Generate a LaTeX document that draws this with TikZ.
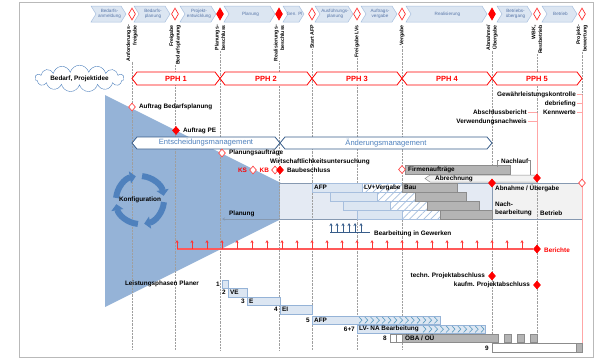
\documentclass[tikz,border=0pt]{standalone}
\usepackage{fontspec}
\setmainfont{Liberation Sans}
\usetikzlibrary{arrows.meta,positioning,shapes.geometric,shapes.symbols,patterns.meta}

\definecolor{phasefill}{HTML}{DCE6F2}
\definecolor{phasedraw}{HTML}{A7BFDE}
\definecolor{phasetext}{HTML}{5876A8}
\definecolor{trifill}{HTML}{95B3D7}
\definecolor{konfblue}{HTML}{4F81BD}
\definecolor{mgmtblue}{HTML}{385D8A}
\definecolor{bandfill}{HTML}{E4EAF3}
\definecolor{baugray}{HTML}{B4B4B4}
\definecolor{baudraw}{HTML}{8C8C8C}
\definecolor{offgray}{HTML}{F2F2F2}
\definecolor{pinkline}{HTML}{FFA6A6}
\definecolor{chevteal}{HTML}{5B9BC0}

\begin{document}
\begin{tikzpicture}[x=1pt, y=-1pt, >=Stealth,
    lbl/.style={font=\fontsize{6.4}{7.5}\selectfont\bfseries, inner xsep=1pt, inner ysep=0pt},
    redlbl/.style={lbl, text=red},
    phase/.style={fill=phasefill, draw=phasedraw, line width=0.5pt},
    phasetxt/.style={font=\fontsize{4.6}{5.4}\selectfont, text=phasetext, align=center, inner sep=0pt},
    ms/.style={diamond, draw=red!80, fill=white, line width=0.7pt, minimum width=7pt, minimum height=12pt, inner sep=0pt},
    msfull/.style={ms, fill=red, draw=red},
    mstxt/.style={rotate=90, anchor=east, align=right, font=\fontsize{5.2}{6.6}\selectfont\bfseries, inner sep=0pt},
    sms/.style={diamond, draw=red!70, fill=white, line width=0.7pt, minimum width=7pt, minimum height=8pt, inner sep=0pt},
    smsfull/.style={sms, fill=red, draw=red},
    vline/.style={gray!75, densely dotted, line width=0.45pt},
    pph/.style={draw=red, fill=white, line width=0.8pt},
    pphtxt/.style={font=\fontsize{7.5}{9}\selectfont\bfseries, text=red, inner sep=0pt},
    mgmt/.style={draw=mgmtblue, fill=white, line width=0.8pt},
    mgmttxt/.style={font=\fontsize{7.6}{9}\selectfont, text=konfblue, inner sep=0pt},
    afp/.style={fill=phasefill, draw=phasedraw, line width=0.5pt},
    hatch/.style={fill=white, draw=phasedraw, line width=0.5pt, postaction={pattern={Lines[angle=45, distance=5pt, line width=0.7pt]}, pattern color=phasedraw}},
    bau/.style={fill=baugray, draw=baudraw, line width=0.5pt},
    lp/.style={fill=phasefill, draw=trifill, line width=0.5pt},
    lpwhite/.style={fill=white, draw=baudraw, line width=0.5pt},
    chevline/.style={draw=chevteal, line width=0.6pt},
    pinkl/.style={draw=pinkline, line width=0.8pt},
    redline/.style={draw=red!65, line width=1.2pt},
    redarr/.style={draw=red!80, line width=0.6pt, -{Stealth[length=3pt, width=3pt]}},
    bluearr/.style={draw=mgmtblue, line width=0.6pt, -{Stealth[length=3pt, width=3pt]}},
    konfarr/.style={draw=konfblue, line width=6pt, -{Triangle[length=6pt, width=12pt]}}]

    \useasboundingbox (0,0) rectangle (600,360);
    \draw[gray!55, line width=0.8pt] (19,2) rectangle (593,357);
    \coordinate (bot) at (0,350);
    \coordinate (pinkend) at (582,343);

    % Phases on top
    \foreach \a/\b/\t [count=\i] in {91/126/{Bedarfs-\\anmeldung}, 134/170/{Bedarfs-\\planung}, 180/216/{Projekt-\\entwicklung}, 224/275/Planung, 283/304/{Gen. Pl}, 315/353/{Ausführungs-\\planung}, 361/397/{Auftrags-\\vergabe}, 406/487/Realisierung, 497/532/{Betriebs-\\übergang}, 542/577/Betrieb}{
        \draw[phase] (\a,6) -- (\b-5,6) -- (\b,14) -- (\b-5,22) -- (\a,22) -- (\a+5,14) -- cycle;
        \node[phasetxt] (ph\i) at ({(\a+\b)/2+1},14) {\t};
    }

    % Milestones
    \foreach \x/\t/\s [count=\i] in {132/{Anforderungs-\\freigabe}/ms, 175/{Freigabe\\Bedarfsplanung}/ms, 220/{Planungs-\\beschluss}/msfull, 279/{Realisierungs-\\beschluss}/msfull, 312/{Start AFP}/ms, 357/{Freigabe LVs}/ms, 402/Vergabe/ms, 492/{Abnahme/\\Übergabe}/msfull, 537/{WBK,\\Restbetrieb}/ms, 582/{Projekt-\\bewertung}/ms}{
        \node[\s] (d\i) at (\x,14) {};
        \node[mstxt] (m\i) at (\x,25) {\t};
    }

    \node[lbl, cloud, draw=konfblue, fill=white, cloud puffs=15, aspect=6, minimum width=89pt, minimum height=15pt, inner sep=0pt] (idee) at (79.5,78.5) {Bedarf, Projektidee};

    % Triangle and band
    \fill[trifill] (105,95) -- (317,201) -- (105,307) -- cycle;
    \fill[bandfill] (280,183) rectangle (492,219);
    \fill[offgray] (492,183) rectangle (582,219);

    \foreach \i in {1,...,10} \draw[vline] (m\i.west) -- (m\i.west |- bot);

    \draw[phasedraw!80!black, line width=0.5pt] (280,183) -- (582,183);
    \draw[phasedraw!80!black, line width=0.5pt, {Stealth[length=3pt, width=3pt]}-] (222,219) -- (582,219);
    \draw[phasedraw!80!black, line width=0.5pt] (492,183) -- (492,219);

    % PPH
    \foreach \a/\b/\n in {132/220/1, 220/312/2, 312/402/3, 402/492/4, 492/582/5}{
        \draw[pph] (\a,78.5) -- (\a+5,72) -- (\b-5,72) -- (\b,78.5) -- (\b-5,85) -- (\a+5,85) -- cycle;
        \node[pphtxt] (pph\n) at ({(\a+\b)/2},78.5) {PPH \n};
    }

    % Management
    \foreach \a/\b/\t/\n in {132/280/Entscheidungsmanagement/ent, 280/492/Änderungsmanagement/aend}{
        \draw[mgmt] (\a,143) -- (\a+5,137) -- (\b-5,137) -- (\b,143) -- (\b-5,149) -- (\a+5,149) -- cycle;
        \node[mgmttxt] (\n) at ({(\a+\b)/2},143) {\t};
    }

    % Decisions
    \node[sms] (dab) at (132,107) {};
    \node[lbl, right=2pt of dab] (ab) {Auftrag Bedarfsplanung};
    \node[smsfull] (dpe) at (176,130.5) {};
    \node[lbl, right=2pt of dpe] (pe) {Auftrag PE};
    \node[sms] (dpa) at (222,153) {};
    \node[lbl, right=2pt of dpa] (pa) {Planungsaufträge};
    \node[lbl, anchor=west] (wu) at (269,161.5) {Wirtschaftlichkeitsuntersuchung};
    \node[sms] (dks) at (253,170) {};
    \node[redlbl, left=1pt of dks] (ks) {KS};
    \node[sms] (dkb0) at (275,170) {};
    \node[smsfull] (dkb) at (280,170) {};
    \node[redlbl, left=1pt of dkb0] (kb) {KB};
    \node[lbl, right=2pt of dkb] (bb) {Baubeschluss};

    % Staircase AFP / LV / Bau
    \foreach \a/\b/\y in {312/362/183, 330/377/192, 343/390/201, 357/402/210} \filldraw[afp] (\a,\y) rectangle (\b,\y+9);
    \foreach \a/\b/\y in {362/402/183, 377/415/192, 390/427/201, 402/440/210} \filldraw[hatch] (\a,\y) rectangle (\b,\y+9);
    \node[lbl, anchor=west] (afp) at (313,187.5) {AFP};
    \node[lbl, anchor=west] (lvv) at (363,187.5) {LV+Vergabe};
    \foreach \a/\b/\y in {402/457/183, 415/466/192, 427/479/201, 440/492/210} \filldraw[bau] (\a,\y) rectangle (\b,\y+9);
    \node[lbl, anchor=west] (bau) at (403,187.5) {Bau};
    \node[lbl, anchor=west] (planung) at (228,214) {Planung};

    \node[lbl, anchor=west] (abn) at (494,188) {Abnahme / Übergabe};
    \node[lbl, anchor=west] (nb1) at (494,204) {Nach-};
    \node[lbl, anchor=west] (nb2) at (494,213) {bearbeitung};
    \node[lbl, anchor=west] (betr) at (539,213) {Betrieb};

    % Firmen / Abrechnung
    \filldraw[bau] (405,165) rectangle (510,174);
    \node[sms] (dfa) at (402,169.5) {};
    \node[lbl, anchor=west] (firm) at (407,169.5) {Firmenaufträge};
    \node[lbl, anchor=west] (nach) at (500,161.5) {Nachlauf};
    \draw[baudraw, line width=0.5pt] (497,167) -- (497,160) -- (499,160);
    \draw[baudraw, line width=0.5pt] (527,160) -- (530,160) -- (530,175);
    \filldraw[fill=offgray, draw=baudraw, line width=0.5pt] (425,178.5) -- (430,175) -- (537,175) -- (537,182) -- (430,182) -- cycle;
    \node[lbl, anchor=west] (abr) at (434,178.5) {Abrechnung};

    % Closing reports
    \node[lbl, anchor=east] (gwk) at (577,94.5) {Gewährleistungskontrolle};
    \node[lbl, anchor=east] (debr) at (577,103.5) {debriefing};
    \node[lbl, anchor=east] (kw) at (577,112.5) {Kennwerte};
    \node[lbl, anchor=east] (asb) at (528,112.5) {Abschlussbericht};
    \node[lbl, anchor=east] (vwn) at (528,121.5) {Verwendungsnachweis};
    \foreach \n in {gwk,debr,kw} \draw[pinkl] (\n.east) -- (\n.east -| d10);
    \foreach \n in {asb,vwn} \draw[pinkl] (\n.east) -- (\n.east -| d9);
    \draw[pinkl] (gwk.east -| d10) -- (pinkend);
    \draw[pinkl] (asb.east -| d9) -- (537,178);
    \node[smsfull] (dabr) at (537,178) {};
    \node[smsfull] (dabn) at (492,183) {};
    \node[sms] (dbew) at (582,183) {};

    % Gewerke
    \foreach \x in {331,337,...,361} \draw[bluearr] (\x,232) -- (\x,223);
    \draw[mgmtblue, line width=0.6pt] (330,232) -- (370,232);
    \node[lbl, anchor=west] (gew) at (373,233.5) {Bearbeitung in Gewerken};

    % Berichte
    \coordinate (berstart) at (177,249);
    \node[smsfull] (dber) at (537,249) {};
    \draw[redline] (berstart) -- (dber);
    \foreach \k in {0,...,23} \draw[redarr] (177+15*\k,249) -- ++(0,-9);
    \node[redlbl, anchor=west] (ber) at (543,250) {Berichte};

    % Projektabschluss
    \node[smsfull] (dtech) at (492,276) {};
    \node[lbl, left=2pt of dtech] (tech) {techn. Projektabschluss};
    \node[smsfull] (dkauf) at (537,285) {};
    \node[lbl, left=2pt of dkauf] (kauf) {kaufm. Projektabschluss};

    % Konfiguration
    \coordinate (kc) at (140,200);
    \foreach \s in {-175,-85,5,95} \draw[konfarr] ([shift={(\s:24)}]kc) arc[start angle=\s, end angle=\s+75, radius=24];
    \node[lbl] (konf) at (kc) {Konfiguration};

    % Leistungsphasen
    \node[lbl] (lph) at (162,284) {Leistungsphasen Planer};
    \foreach \a/\b/\y/\n/\t in {222/228/280/1/{}, 228/247/288.5/2/VE, 247/280/297/3/E, 280/312/305.5/4/EI}{
        \filldraw[lp] (\a,\y) rectangle (\b,\y+8.5);
        \node[lbl, anchor=east] (lpn\n) at (\a-1,\y+4.25) {\n};
        \node[lbl, anchor=west] (lpt\n) at (\a+1,\y+4.25) {\t};
    }
    \filldraw[lp] (312,316) rectangle (440,324.5);
    \node[lbl, anchor=east] (lpn5) at (311,320.25) {5};
    \node[lbl, anchor=west] (lpt5) at (313,320.25) {AFP};
    \foreach \k in {0,...,13} \draw[chevline] (359+5.8*\k,317) -- ++(3,3.2) -- ++(-3,3.2);
    \filldraw[lp] (357,325) rectangle (485,333.5);
    \node[lbl, anchor=east] (lpn6) at (356,329.25) {6+7};
    \node[lbl, anchor=west] (lpt6) at (358,329.25) {LV- NA Bearbeitung};
    \foreach \k in {0,...,10} \draw[chevline] (423+5.8*\k,326) -- ++(3,3.2) -- ++(-3,3.2);
    \node[lbl, anchor=east] (lpn8) at (388,338) {8};
    \filldraw[lpwhite] (390,334) rectangle (396,342);
    \filldraw[lpwhite] (396,334) rectangle (402,342);
    \filldraw[bau] (402,334) rectangle (498,342);
    \node[lbl, anchor=west] (oeba) at (404,338) {ÖBA / OÜ};
    \foreach \a in {504,517,530} \filldraw[bau] (\a,334) rectangle (\a+7.5,342);
    \node[lbl, anchor=east] (lpn9) at (490,348) {9};
    \filldraw[lpwhite] (492,343.5) rectangle (576,352);
    \filldraw[bau] (576,343.5) rectangle (582,352);
\end{tikzpicture}
\end{document}
